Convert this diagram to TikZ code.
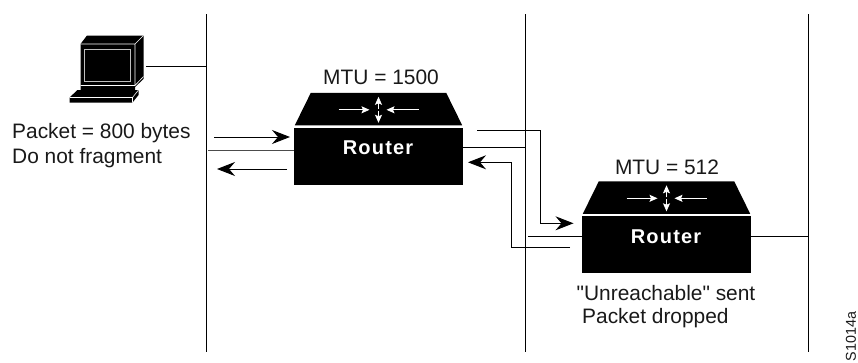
\documentclass[tikz,border=0pt]{standalone}
\usepackage{fontspec}
\setmainfont{Liberation Sans}
\newfontfamily\plainfont{Liberation Sans}
\usetikzlibrary{arrows.meta,calc}
\tikzset{
  bus/.style={draw=black,line width=1pt},
  wire/.style={draw=black,line width=1pt},
  flow/.style={draw=black,line width=1pt,-{Stealth[length=18pt,width=14pt,inset=6pt]}},
  whitearrow/.style={draw=white,line width=.8pt,-{Stealth[length=8pt,width=7pt,inset=1.5pt]}},
  boxbody/.style={fill=black,draw=none,inner sep=0pt,minimum height=57pt,minimum width=169pt},
  label/.style={font=\fontsize{20.9}{25}\selectfont\plainfont,inner sep=0pt,text=black!90},
  rtext/.style={font=\fontsize{20}{24}\selectfont\bfseries\addfontfeature{LetterSpace=6},text=white,inner sep=0pt},
}
\newcommand{\routertop}[1]{%
  \fill[black] ($(#1.north west)+(1,-2)$) -- ($(#1.north west)+(17,-34.5)$) -- ($(#1.north east)+(-17,-34.5)$) -- ($(#1.north east)+(-1,-2)$) -- cycle;
  \coordinate (#1c) at ($(#1.north)+(0,-17.5)$);
  \draw[whitearrow] ($(#1c)+(-40,0)$) -- ($(#1c)+(-9,0)$);
  \draw[whitearrow] ($(#1c)+(40,0)$) -- ($(#1c)+(8,0)$);
  \draw[whitearrow] ($(#1c)+(0,-1)$) -- ($(#1c)+(0,-13)$);
  \draw[whitearrow] ($(#1c)+(0,1)$) -- ($(#1c)+(0,13)$);
}
\begin{document}
\begin{tikzpicture}[x=1pt,y=-1pt]
\useasboundingbox (0,0) rectangle (858,362);
\clip (0,0) rectangle (858,362);
% buses
\coordinate (b1t) at (206,14); \coordinate (b1b) at (206,352);
\coordinate (b2t) at (525,14); \coordinate (b2b) at (525,352);
\coordinate (b3t) at (808.5,14); \coordinate (b3b) at (808.5,352);
\draw[bus] (b1t) -- (b1b);
\draw[bus] (b2t) -- (b2b);
\draw[bus] (b3t) -- (b3b);
% laptop
\fill[black] (80.5,44) -- (87,35.5) -- (143.5,35.5) -- (143.5,79) -- (135,87) -- (135,90) -- (80.5,90) -- cycle;
\draw[white,line width=.6pt] (135,44) -- (143.5,35.5) (80.5,44) -- (135,44) -- (135,85.5) -- (80.5,85.5) (135,85.5) -- (143.5,76.5);
\draw[white!75!black,line width=.9pt,fill=black] (84.5,49) rectangle (130.5,81);
\fill[black] (69.5,97.5) -- (77.5,90) -- (138.5,90) -- (138.5,95) -- (132.5,102.5) -- (69.5,102.5) -- cycle;
\draw[white,line width=.6pt] (69.5,97.5) -- (132.5,97.5) -- (138.5,90) (132.5,97.5) -- (132.5,102.5);
\coordinate (pc) at (146,66.5);
\draw[wire] (pc) -- (pc -| b1t);
\node[label,anchor=west,align=left] (pkt) at (12,145.5) {Packet = 800 bytes\\Do not fragment};
% router 1
\node[boxbody] (r1) at (378.5,156) {};
\routertop{r1}
\node[rtext] (r1t) at (378,148) {Router};
\node[label] (m1) at (381,77) {MTU = 1500};
% router 2
\node[boxbody] (r2) at (666.5,244.5) {};
\routertop{r2}
\node[rtext] (r2t) at (666,237) {Router};
\node[label] (m2) at (667,167.5) {MTU = 512};
\node[label] (u) at (666,293) {"Unreachable" sent};
\node[label,anchor=west] (d) at (582,318) {Packet dropped};
% wires
\draw[wire,draw=black!70] (208,150) -- (r1.west |- 0,150);
\draw[wire] (r1.east |- 0,147.3) -- (b2t |- 0,147.3);
\draw[wire] (528,236.5) -- (r2.west |- 0,236.5);
\draw[wire] (r2.east |- 0,236.5) -- (b3t |- 0,236.5);
% flows
\draw[flow] (214,137) -- (290,137);
\draw[flow] (287,169) -- (217,169);
\draw[flow] (477,130) -- (540.3,130) -- (540.3,223.3) -- (573.5,223.3);
\draw[flow] (570,247.7) -- (511,247.7) -- (511,162.3) -- (468,162.3);
\node[font=\fontsize{14.3}{18}\selectfont,rotate=90,anchor=west,inner sep=0pt,text=black!90] (id) at (851,361.5) {S1014a};
\end{tikzpicture}
\end{document}
